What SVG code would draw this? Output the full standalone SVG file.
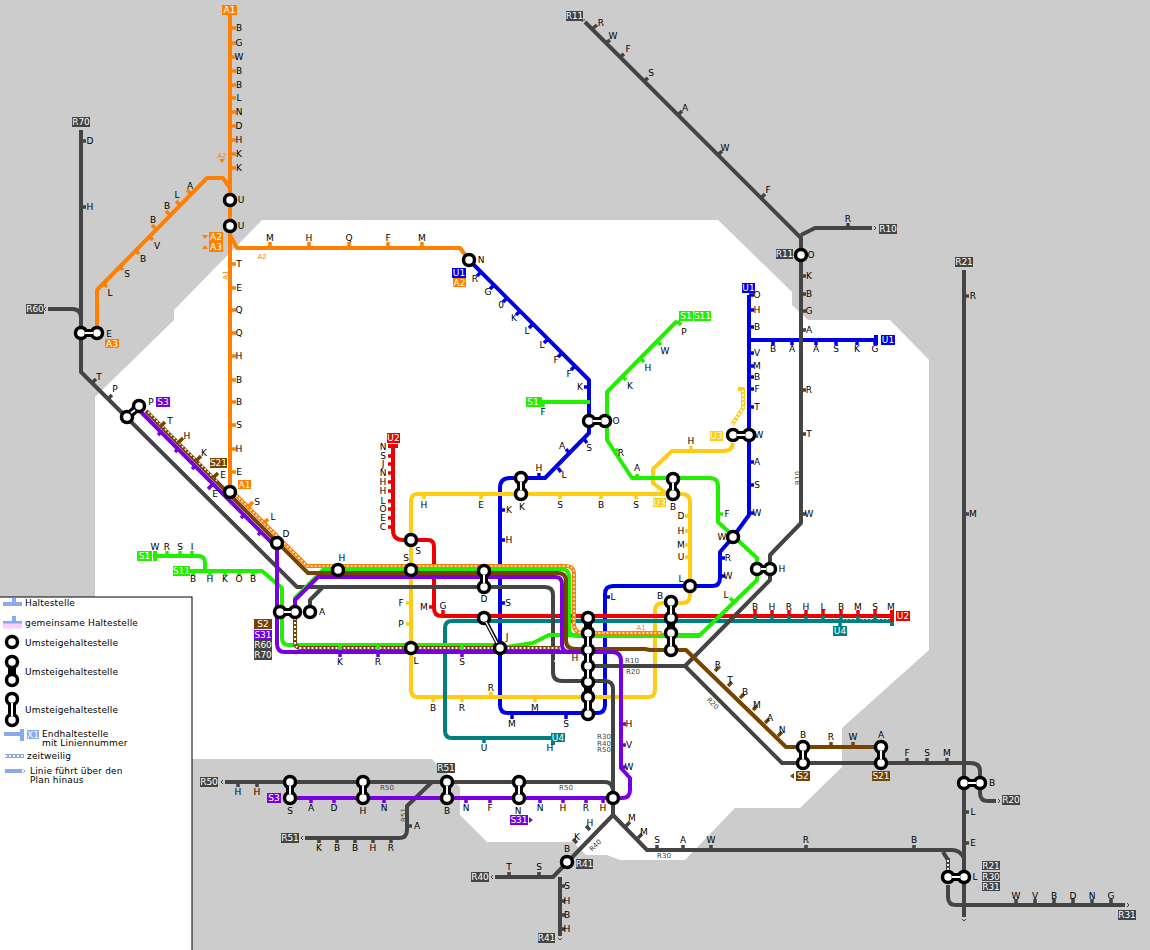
<svg xmlns="http://www.w3.org/2000/svg" width="1150" height="950" viewBox="0 0 1150 950">
<style>
text{font-family:"DejaVu Sans","Liberation Sans",sans-serif;font-size:9px;fill:#000;text-anchor:middle}
.s{font-size:7px;fill:#444}
.l{text-anchor:start;letter-spacing:.17px}
.w{fill:#fff}
path{fill:none;stroke-linejoin:round}
.ln{stroke-width:4}
.t{stroke-width:3.500}
.d{stroke:#fff;stroke-width:2;stroke-dasharray:2 2}
.gy{stroke:#444}.or{stroke:#ff8000}.bl{stroke:#0000e6}.gr{stroke:#22ee00}.ye{stroke:#ffcc11}.re{stroke:#ee0000}.te{stroke:#007f7f}.pu{stroke:#7700dd}.br{stroke:#774400}
.st circle{fill:#fff;stroke:#000;stroke-width:3.500}
.k{stroke:#000;stroke-width:8;stroke-linecap:round}
.kw{stroke:#fff;stroke-width:2}
.tk{stroke:#444;stroke-width:1}
</style>
<rect width="1150" height="950" fill="#cccccc"/>
<polygon fill="#fff" points="262,220 718,220 792,292 792,305 808,320 890,320 929,360 929,650 842,728 842,767 800,808 735,808 685,860 620,860 607,855 586,855 573,842 487,842 460,815 460,787 432,759 192,759 192,597 95,597 95,397 174,320 174,310"/>
<g id="legend" opacity=".999">
<rect x="-2" y="597" width="194" height="360" fill="#fff" stroke="#000" stroke-width="1"/>
<path d="M3 604H22M14 604V598" stroke="#88aaee" stroke-width="4"/>
<path d="M3 623H22M14 623V616" stroke="#88aaee" stroke-width="4"/><path d="M3 626H22" stroke="#ffccff" stroke-width="5"/>
<path d="M4 734H22M22 729V741" stroke="#88aaee" stroke-width="4"/>
<rect x="27" y="730" width="12" height="9" fill="#88aaee"/><text x="33" y="738" class="w">X1</text>
<path d="M5 756H24" stroke="#88aaee" stroke-width="4"/><path d="M5 756H24" class="d"/>
<path d="M5 771H22" stroke="#88aaee" stroke-width="4"/><path d="M23 769l2 2l-2 2" stroke="#88aaee" stroke-width="1"/>
<g class="st"><circle cx="12" cy="642" r="5.500"/><path class="k" d="M12 662V680"/><circle cx="12" cy="662" r="5.500"/><circle cx="12" cy="680" r="5.500"/><path class="k" d="M12 699V720"/><circle cx="12" cy="699" r="5.500"/><circle cx="12" cy="720" r="5.500"/><path class="kw" d="M12 703V716"/></g>
<text x="25" y="606" class="l">Haltestelle</text>
<text x="25" y="626" class="l">gemeinsame Haltestelle</text>
<text x="25" y="646" class="l">Umsteigehaltestelle</text>
<text x="25" y="675" class="l">Umsteigehaltestelle</text>
<text x="25" y="713" class="l">Umsteigehaltestelle</text>
<text x="42" y="737" class="l">Endhaltestelle</text>
<text x="42" y="746" class="l">mit Liniennummer</text>
<text x="27" y="759" class="l">zeitweilig</text>
<text x="30" y="774" class="l">Linie führt über den</text>
<text x="30" y="783" class="l">Plan hinaus</text>
</g>
<g id="connectors">
<path class="ln bl" d="M749 295V515L733 537L720 552V578Q720 586 712 586H613Q605 586 605 594V705Q605 713 597 713H508Q500 713 500 705V488Q500 478 510 478H545L589 433V380L469 260"/>
<path class="ln bl" d="M749 340H876M876 335V345"/>
<path class="ln ye" d="M411 540V690Q411 697 418 697H648Q655 697 655 690V611Q655 603 663 603H682Q690 603 690 595V502Q690 494 682 494H418Q411 494 411 501V540"/>
<path class="ln ye" d="M733 443Q732 451 724 451H672L653 469V483L667 494"/>
<path class="ln ye" d="M732 425L743 408V389H738"/><path class="d" d="M732 425L743 408V389"/>
<path class="ln te" d="M892 621H452Q445 621 445 628V731Q445 738 452 738H553M553 733V745M892 616V626"/>
<path class="d" d="M842 618.500H888"/>
<path class="ln re" d="M393 446V530Q393 540 403 540H428Q434 540 434 547V608Q434 616 442 616H892M892 610V622M388 446H398"/>
<path class="ln gy" d="M81 130V372L297 587H545Q553 587 553 595V672Q553 681 562 681H605Q613 681 613 689V815L553 877H495M560 877V936"/>
<path class="ln gy" d="M310 606V600L323 587M588 666H685L770 580V555L801 523V238L585 22M801 235L815 228H872M48 309H72Q81 309 81 318V333"/>
<path class="ln gy" d="M685 666L782 763H970Q980 763 980 771V793Q980 801 988 801H996M964 270V917"/>
<path class="ln gy" d="M613 815L647 850H952Q960 850 964 858M948 885V897Q948 905 956 905H1125M948 860L943 852"/>
<path class="ln gy" d="M225 782H605Q613 782 613 792M432 782L407 806V830Q407 838 399 838H305"/>
<path d="M948 877V858" class="ln gy"/><path class="d" d="M948 870V858"/>
<path class="d" d="M555 660Q557 666 562 666H585"/>
<path class="ln gr" d="M677 321L607 392V440L632 478H710Q718 478 718 486V522L757 558V580L700 635H549L533 643L500 648"/>
<path class="ln gr" d="M155 556H198Q205 556 205 563V571M190 571H262L282 588V638Q282 645 289 645H500M155 551V561"/>
<path class="ln gr" d="M295 606V598L324 569H561Q569 569 569 577V628Q569 636 577 636H700M540 402H590M540 397V407"/>
<path class="ln br" d="M146 411L308 573H558Q566 573 566 581V640Q566 649 575 649H645L650 650H686L786 747H881"/>
<path class="ln br" d="M295 606V642Q295 648 301 648H560"/>
<path class="d" d="M295 614V642Q295 648 301 648H560"/>
<path class="d" d="M148 412L217 481" style="stroke-width:1.500"/>
<path class="ln pu" d="M139 410L277 548V644Q277 652 285 652H612Q621 652 621 661V768L630 778V790Q630 798 622 798H290"/>
<path class="ln pu" d="M295 606V600L318 577H555Q562 577 562 584V645Q562 652 570 652"/>
<path class="ln or" d="M230 10V489L307 566H566Q574 566 574 574V624Q574 633 583 633H662"/>
<path class="d" d="M236 495L307 566H566Q574 566 574 574V624Q574 633 583 633H662" style="stroke-width:1.500"/>
<path class="ln or" d="M230 188L223 178H207L97 290V333M230 235L237 248H460L469 260"/>
<path class="or t" d="M230 28h6M230 43h6M230 57h6M230 71h6M230 85h6M230 98h6M230 112h6M230 126h6M230 140h6M230 154h6M230 168h6M230 264h6M230 288h6M230 310h6M230 333h6M230 356h6M230 380h6M230 402h6M230 425h6M230 449h6M230 472h6M270 248v-6M309 248v-6M349 248v-6M388 248v-6M422 248v-6M191 194l-4 -4M180 205l-4 -4M170 215l-4 -4M156 229l-4 -4M149 236l4 4M135 250l4 4M119 266l4 4M103 283l4 4M248 507l5 -5M264 523l4 -4"/>
<path class="t bl" d="M481 272l-4 4M494 285l-4 4M507 298l-4 4M520 311l-4 4M533 324l-4 4M548 339l-4 4M562 353l-4 4M575 366l-4 4M589 387h-5M749 295h5M749 310h5M749 327h5M749 353h5M749 366h5M749 377h5M749 389h5M749 407h5M749 462h5M749 485h5M749 513h5M773 340v5M792 340v5M816 340v5M836 340v5M857 340v5M875 340v5M569 453l-3 -4M584 439l3 4M558 468l3 4M539 478v-5M500 510h5M500 540h5M500 603h5M605 597h5M720 558h5M720 576h5M512 713v6M566 713v6"/>
<path class="t gr" d="M677 321l4 4M657 341l4 4M640 358l4 4M622 376l4 4M615 452l3 -3M637 478v-4M718 514h5M543 402v5M155 556v-5M167 556v-5M180 556v-5M192 556v-5M193 571v5M210 571v5M225 571v5M239 571v5M253 571v5M734 602l-4 -4M340 645v5M378 645v5M462 645v5"/>
<path class="t ye" d="M424 494v5M481 494v5M560 494v5M601 494v5M636 494v5M691 451v-5M690 516h-5M690 531h-5M690 545h-5M690 557h-5M411 603h-5M411 624h-5M433 697v5M462 697v5M491 697v-5M535 697v5"/>
<path class="t re" d="M393 456h-5M393 464h-5M393 473h-5M393 482h-5M393 491h-5M393 501h-5M393 509h-5M393 518h-5M393 527h-5M434 607h-5M443 616v-6M755 616v-6M772 616v-6M789 616v-6M806 616v-6M823 616v-6M841 616v-6M858 616v-6M875 616v-6"/>
<path class="t te" d="M755 621v-5M772 621v-5M789 621v-5M806 621v-5M823 621v-5M841 621v-5M858 621v-5M875 621v-5M840 621v6M484 738v5"/>
<path class="t pu" d="M621 724h5M621 745h5M621 767h5M311 798v5M334 798v5M384 798v5M466 798v5M490 798v5M540 798v5M563 798v5M586 798v5M603 798v5M340 652v5M378 652v5M462 652v5M161 432l-3 3M178 449l-3 3M195 466l-3 3M213 484l-5 5M244 515l-3 3M261 532l-3 3"/>
<path class="t br" d="M161 426l4 -4M178 443l5 -5M196 461l5 -5M213 478l5 -5M715 671l4 -4M728 686l4 -4M740 698l4 -4M753 710l4 -4M765 723l4 -4M778 736l4 -4M831 747v-5M853 747v-5"/>
<path class="t gy" d="M81 141h5M81 207h5M92 383l4 -4M108 399l4 -4M592 29l5 -4M606 43l4 -3M620 57l4 -3M644 81l4 -3M678 115l4 -4M718 155l4 -4M761 198l4 -4M848 228v-5M801 276h5M801 294h5M801 311h5M801 330h5M801 390h5M801 434h5M801 514h5M964 296h5M964 514h5M964 812h5M964 843h5M907 763v-5M927 763v-5M947 763v-5M1016 905v-6M1035 905v-6M1054 905v-6M1073 905v-6M1092 905v-6M1111 905v-6M238 782v5M257 782v5M407 826h5M319 838v5M337 838v5M355 838v5M373 838v5M391 838v5M509 877v-5M539 877v-5M560 886h5M560 901h5M560 915h5M560 929h5M577 843l-4 -4M590 830l-4 -4M626 826l4 -4M638 838l4 -4M657 850v-5M683 850v-5M711 850v-5M806 850v-5M914 850v-5"/>
<path class="tk" d="M46 307l-2 2l2 2M79 127l2 -2l2 2M223 780l-2 2l2 2M303 836l-2 2l2 2M493 875l-2 2l2 2M558 938l2 2l2 -2M962 919l2 2l2 -2M998 799l2 2l-2 2M1127 903l2 2l-2 2M874 226l2 2l-2 2M585 20h-3v2"/>
</g>
<g id="stations" class="st">
<g id="n-ue1"><circle cx="230" cy="200" r="5.500"/></g>
<g id="n-ue2"><circle cx="230" cy="226" r="5.500"/></g>
<g id="n-n"><circle cx="469" cy="260" r="5.500"/></g>
<g id="n-e"><path class="k" d="M81 333H97"/><circle cx="81" cy="333" r="5.500"/><circle cx="97" cy="333" r="5.500"/><path class="kw" d="M85 333H93"/></g>
<g id="n-p"><path class="k" d="M127 417L139 406"/><circle cx="127" cy="417" r="5.500"/><circle cx="139" cy="406" r="5.500"/><path class="kw" d="M131 413L135 410"/></g>
<g id="n-e2"><circle cx="230" cy="492" r="5.500"/></g>
<g id="n-d"><circle cx="277" cy="543" r="5.500"/></g>
<g id="n-a"><path class="k" d="M280 612H295"/><circle cx="280" cy="612" r="5.500"/><circle cx="295" cy="612" r="5.500"/><circle cx="310" cy="612" r="5.500"/><path class="kw" d="M284 612H291"/></g>
<g id="n-h"><circle cx="338" cy="570" r="5.500"/></g>
<g id="n-s"><circle cx="411" cy="570" r="5.500"/></g>
<g id="n-s2"><circle cx="411" cy="540" r="5.500"/></g>
<g id="n-l"><circle cx="411" cy="648" r="5.500"/></g>
<g id="n-dd"><path class="k" d="M484 571V587"/><circle cx="484" cy="571" r="5.500"/><circle cx="484" cy="587" r="5.500"/><path class="kw" d="M484 575V583"/></g>
<g id="n-j"><path d="M484 618L500 648" stroke="#000" stroke-width="4"/><circle cx="484" cy="618" r="5.500"/><circle cx="500" cy="648" r="5.500"/><path d="M486 622L497 643" class="kw" style="stroke-width:1.500"/></g>
<g id="n-hbf"><path class="k" d="M588 618V714"/><circle cx="588" cy="618" r="5.500"/><circle cx="588" cy="633" r="5.500"/><circle cx="588" cy="650" r="5.500"/><circle cx="588" cy="666" r="5.500"/><circle cx="588" cy="682" r="5.500"/><circle cx="588" cy="697" r="5.500"/><circle cx="588" cy="714" r="5.500"/><path class="kw" d="M588 701V710M588 637V646M588 654V662M588 670V678"/></g>
<g id="n-b"><path class="k" d="M671 602V650"/><circle cx="671" cy="602" r="5.500"/><circle cx="671" cy="618" r="5.500"/><circle cx="671" cy="633" r="5.500"/><circle cx="671" cy="650" r="5.500"/><path class="kw" d="M671 637V646M671 606V614"/></g>
<g id="n-l2"><circle cx="690" cy="586" r="5.500"/></g>
<g id="n-b2"><path class="k" d="M673 479V494"/><circle cx="673" cy="479" r="5.500"/><circle cx="673" cy="494" r="5.500"/><path class="kw" d="M673 483V490"/></g>
<g id="n-k"><path class="k" d="M521 478V494"/><circle cx="521" cy="478" r="5.500"/><circle cx="521" cy="494" r="5.500"/><path class="kw" d="M521 482V490"/></g>
<g id="n-o"><path class="k" d="M589 421H605"/><circle cx="589" cy="421" r="5.500"/><circle cx="605" cy="421" r="5.500"/><path class="kw" d="M593 421H601"/></g>
<g id="n-w"><path class="k" d="M733 435H749"/><circle cx="733" cy="435" r="5.500"/><circle cx="749" cy="435" r="5.500"/><path class="kw" d="M737 435H745"/></g>
<g id="n-w2"><circle cx="733" cy="537" r="5.500"/></g>
<g id="n-h2"><path class="k" d="M757 569H770"/><circle cx="757" cy="569" r="5.500"/><circle cx="770" cy="569" r="5.500"/><path class="kw" d="M761 569H766"/></g>
<g id="n-o2"><circle cx="801" cy="255" r="5.500"/></g>
<g id="n-s21"><path class="k" d="M881 747V763"/><circle cx="881" cy="747" r="5.500"/><circle cx="881" cy="763" r="5.500"/><path class="kw" d="M881 751V759"/></g>
<g id="n-b3"><path class="k" d="M803 747V763"/><circle cx="803" cy="747" r="5.500"/><circle cx="803" cy="763" r="5.500"/><path class="kw" d="M803 751V759"/></g>
<g id="n-b4"><path class="k" d="M964 783H980"/><circle cx="964" cy="783" r="5.500"/><circle cx="980" cy="783" r="5.500"/><path class="kw" d="M968 783H976"/></g>
<g id="n-l3"><path class="k" d="M948 877H964"/><circle cx="948" cy="877" r="5.500"/><circle cx="964" cy="877" r="5.500"/><path class="kw" d="M952 877H960"/></g>
<g id="n-ss"><path class="k" d="M290 782V798"/><circle cx="290" cy="782" r="5.500"/><circle cx="290" cy="798" r="5.500"/><path class="kw" d="M290 786V794"/></g>
<g id="n-hh"><path class="k" d="M363 782V798"/><circle cx="363" cy="782" r="5.500"/><circle cx="363" cy="798" r="5.500"/><path class="kw" d="M363 786V794"/></g>
<g id="n-bb"><path class="k" d="M447 782V798"/><circle cx="447" cy="782" r="5.500"/><circle cx="447" cy="798" r="5.500"/><path class="kw" d="M447 786V794"/></g>
<g id="n-nn"><path class="k" d="M519 782V798"/><circle cx="519" cy="782" r="5.500"/><circle cx="519" cy="798" r="5.500"/><path class="kw" d="M519 786V794"/></g>
<g id="n-h3"><circle cx="613" cy="798" r="5.500"/></g>
<g id="n-b5"><circle cx="567" cy="862" r="5.500"/></g>
</g>
<g id="badges" opacity=".999">
<g fill="#ff8000"><rect x="222" y="5" width="15" height="10"/><rect x="209" y="232" width="14" height="10"/><rect x="209" y="242" width="14" height="10"/><rect x="238" y="480" width="13" height="9"/><rect x="453" y="278" width="13" height="9"/><rect x="105" y="339" width="14" height="9"/><path style="fill:#ff8000" d="M202 235h6l-3 4zM202 249h6l-3 -4zM219 159h6l-3 4z"/></g>
<g fill="#0000e6"><rect x="452" y="268" width="14" height="10"/><rect x="742" y="283" width="13" height="10"/><rect x="881" y="335" width="14" height="10"/></g>
<g fill="#22ee00"><rect x="526" y="397" width="14" height="10"/><rect x="679" y="311" width="14" height="10"/><rect x="694" y="311" width="17" height="10"/><rect x="137" y="551" width="15" height="10"/><rect x="173" y="566" width="17" height="10"/></g>
<g fill="#ffcc11"><rect x="710" y="431" width="13" height="10"/><rect x="653" y="498" width="13" height="9"/></g>
<g fill="#ee0000"><rect x="387" y="433" width="13" height="10"/><rect x="896" y="611" width="14" height="10"/></g>
<g fill="#007f7f"><rect x="833" y="626" width="14" height="10"/><rect x="551" y="733" width="14" height="9"/></g>
<g fill="#7700dd"><rect x="156" y="397" width="14" height="10"/><rect x="267" y="793" width="14" height="10"/><rect x="254" y="630" width="18" height="10"/><rect x="510" y="815" width="18" height="10"/><path style="fill:#7700dd" d="M529 817v6l4 -3z"/></g>
<g fill="#774400"><rect x="210" y="458" width="17" height="10"/><rect x="254" y="619" width="18" height="10"/><rect x="796" y="771" width="14" height="10"/><rect x="872" y="771" width="18" height="10"/><path style="fill:#774400" d="M794 773v6l-4 -3z"/></g>
<g fill="#444"><rect x="72" y="117" width="18" height="10"/><rect x="26" y="304" width="18" height="10"/><rect x="566" y="11" width="17" height="10"/><rect x="776" y="249" width="17" height="10"/><rect x="879" y="224" width="18" height="10"/><rect x="955" y="257" width="18" height="10"/><rect x="254" y="640" width="18" height="10"/><rect x="254" y="650" width="18" height="10"/><rect x="200" y="777" width="18" height="10"/><rect x="281" y="833" width="18" height="10"/><rect x="437" y="763" width="18" height="10"/><rect x="471" y="872" width="18" height="10"/><rect x="576" y="859" width="17" height="10"/><rect x="538" y="933" width="17" height="10"/><rect x="1002" y="795" width="18" height="10"/><rect x="982" y="861" width="18" height="9"/><rect x="982" y="872" width="18" height="9"/><rect x="982" y="882" width="18" height="9"/><rect x="1118" y="910" width="18" height="10"/></g>
<g>
<text class="w" x="229.500" y="13">A1</text><text class="w" x="216" y="240">A2</text><text class="w" x="216" y="250">A3</text><text class="w" x="244.500" y="488">A1</text><text class="w" x="459.500" y="286">A2</text><text class="w" x="112" y="347">A3</text>
<text class="w" x="459" y="276">U1</text><text class="w" x="748.500" y="291">U1</text><text class="w" x="888" y="343">U1</text>
<text class="w" x="533" y="405">S1</text><text class="w" x="686" y="319">S1</text><text class="w" x="702.500" y="319">S11</text><text class="w" x="144.500" y="559">S1</text><text class="w" x="181.500" y="574">S11</text>
<text class="w" x="716.500" y="439">U3</text><text class="w" x="659.500" y="506">U3</text>
<text class="w" x="393.500" y="441">U2</text><text class="w" x="903" y="619">U2</text>
<text class="w" x="840" y="634">U4</text><text class="w" x="558" y="741">U4</text>
<text class="w" x="163" y="405">S3</text><text class="w" x="274" y="801">S3</text><text class="w" x="263" y="638">S31</text><text class="w" x="519" y="823">S31</text>
<text class="w" x="218.500" y="466">S21</text><text class="w" x="263" y="627">S2</text><text class="w" x="803" y="779">S2</text><text class="w" x="881" y="779">S21</text>
<text class="w" x="81" y="125">R70</text><text class="w" x="35" y="312">R60</text><text class="w" x="574.500" y="19">R11</text><text class="w" x="784.500" y="257">R11</text><text class="w" x="888" y="232">R10</text><text class="w" x="964" y="265">R21</text><text class="w" x="263" y="648">R60</text><text class="w" x="263" y="658">R70</text><text class="w" x="209" y="785">R50</text><text class="w" x="290" y="841">R51</text><text class="w" x="446" y="771">R51</text><text class="w" x="480" y="880">R40</text><text class="w" x="584.500" y="867">R41</text><text class="w" x="546.500" y="941">R41</text><text class="w" x="1011" y="803">R20</text><text class="w" x="991" y="869">R21</text><text class="w" x="991" y="880">R30</text><text class="w" x="991" y="890">R31</text><text class="w" x="1127" y="918">R31</text>
</g>
</g>
<g id="labels" opacity=".999">
<text x="239" y="31">B</text><text x="239" y="46">G</text><text x="239" y="60">W</text><text x="239" y="74">B</text><text x="239" y="88">B</text><text x="239" y="101">L</text><text x="239" y="115">N</text><text x="239" y="129">D</text><text x="239" y="143">H</text><text x="239" y="157">K</text><text x="239" y="171">K</text>
<text x="241" y="203">U</text><text x="241" y="229">U</text>
<text x="239" y="267">T</text><text x="239" y="291">E</text><text x="239" y="313">Q</text><text x="239" y="336">Q</text><text x="239" y="359">H</text><text x="239" y="383">B</text><text x="239" y="405">B</text><text x="239" y="428">S</text><text x="239" y="452">H</text><text x="239" y="475">E</text>
<text x="270" y="241">M</text><text x="309" y="241">H</text><text x="349" y="241">Q</text><text x="388" y="241">F</text><text x="422" y="241">M</text>
<text x="190" y="189">A</text><text x="177" y="198">L</text><text x="167" y="209">B</text><text x="153" y="223">B</text><text x="157" y="249">V</text><text x="143" y="262">B</text><text x="127" y="277">S</text><text x="110" y="296">L</text><text x="109" y="337">E</text>
<text x="481" y="263">N</text><text x="475" y="282">R</text><text x="488" y="295">G</text><text x="501" y="308">0</text><text x="514" y="321">K</text><text x="527" y="334">L</text><text x="542" y="348">L</text><text x="556" y="363">F</text><text x="569" y="377">F</text><text x="580" y="390">K</text>
<text x="90" y="144">D</text><text x="90" y="210">H</text><text x="99" y="380">T</text><text x="115" y="392">P</text><text x="151" y="405">P</text>
<text x="170" y="424">T</text><text x="187" y="439">H</text><text x="204" y="456">K</text><text x="223" y="478">E</text><text x="215" y="497">E</text><text x="257" y="505">S</text><text x="273" y="520">L</text><text x="286" y="537">D</text>
<text x="155" y="550">W</text><text x="167" y="550">R</text><text x="180" y="550">S</text><text x="192" y="550">I</text><text x="193" y="582">B</text><text x="210" y="582">H</text><text x="225" y="582">K</text><text x="239" y="582">O</text><text x="253" y="582">B</text>
<text x="322" y="615">A</text><text x="342" y="561">H</text><text x="406" y="561">S</text><text x="418" y="554">S</text><text x="401" y="606">F</text><text x="401" y="627">P</text><text x="424" y="610">M</text><text x="443" y="609">G</text><text x="484" y="602">D</text><text x="507" y="640">J</text><text x="416" y="664">L</text><text x="340" y="665">K</text><text x="378" y="665">R</text><text x="462" y="665">S</text>
<text x="383" y="450">N</text><text x="383" y="459">S</text><text x="383" y="467">J</text><text x="383" y="476">N</text><text x="383" y="485">H</text><text x="383" y="494">H</text><text x="383" y="504">L</text><text x="383" y="512">O</text><text x="383" y="521">E</text><text x="383" y="530">C</text>
<text x="424" y="508">H</text><text x="481" y="508">E</text><text x="509" y="513">K</text><text x="522" y="510">K</text><text x="560" y="508">S</text><text x="601" y="508">B</text><text x="636" y="508">S</text>
<text x="509" y="543">H</text><text x="508" y="606">S</text><text x="539" y="471">H</text><text x="562" y="449">A</text><text x="564" y="478">L</text><text x="589" y="451">S</text>
<text x="543" y="415">F</text><text x="616" y="424">O</text><text x="684" y="335">P</text><text x="665" y="354">W</text><text x="648" y="371">H</text><text x="630" y="389">K</text><text x="621" y="456">R</text><text x="637" y="471">A</text>
<text x="691" y="444">H</text><text x="757" y="298">O</text><text x="757" y="313">H</text><text x="757" y="330">B</text><text x="757" y="356">V</text><text x="757" y="369">M</text><text x="757" y="380">B</text><text x="757" y="392">F</text><text x="757" y="410">T</text><text x="759" y="438">W</text><text x="757" y="465">A</text><text x="757" y="488">S</text><text x="757" y="516">W</text>
<text x="773" y="352">B</text><text x="792" y="352">A</text><text x="816" y="352">A</text><text x="836" y="352">S</text><text x="857" y="352">K</text><text x="875" y="352">G</text>
<text x="809" y="279">K</text><text x="809" y="297">B</text><text x="809" y="314">G</text><text x="809" y="333">A</text><text x="809" y="393">R</text><text x="809" y="437">T</text><text x="809" y="517">W</text><text x="811" y="258">O</text><text x="848" y="222">R</text>
<text x="601" y="26">R</text><text x="613" y="39">W</text><text x="628" y="52">F</text><text x="651" y="76">S</text><text x="685" y="111">A</text><text x="725" y="151">W</text><text x="768" y="193">F</text>
<text x="973" y="299">R</text><text x="973" y="517">M</text>
<text x="673" y="510">B</text><text x="681" y="519">D</text><text x="681" y="534">H</text><text x="681" y="548">M</text><text x="681" y="560">U</text><text x="681" y="582">L</text><text x="660" y="599">B</text><text x="722" y="540">W</text><text x="727" y="517">F</text><text x="728" y="561">R</text><text x="728" y="579">W</text><text x="726" y="598">L</text><text x="782" y="572">H</text>
<text x="613" y="600">L</text><text x="575" y="661">H</text><text x="433" y="711">B</text><text x="462" y="711">R</text><text x="491" y="691">R</text><text x="535" y="711">M</text><text x="512" y="727">M</text><text x="566" y="727">S</text><text x="484" y="751">U</text><text x="550" y="751">H</text>
<text x="629" y="727">H</text><text x="629" y="748">V</text><text x="629" y="770">W</text>
<text x="755" y="610">B</text><text x="772" y="610">H</text><text x="789" y="610">R</text><text x="806" y="610">H</text><text x="823" y="610">L</text><text x="841" y="610">B</text><text x="858" y="610">M</text><text x="875" y="610">S</text><text x="891" y="610">M</text>
<text x="718" y="668">R</text><text x="730" y="683">T</text><text x="745" y="695">B</text><text x="757" y="708">M</text><text x="770" y="721">A</text><text x="782" y="733">N</text><text x="803" y="738">B</text><text x="831" y="740">R</text><text x="853" y="740">W</text><text x="881" y="738">A</text>
<text x="907" y="756">F</text><text x="927" y="756">S</text><text x="947" y="756">M</text><text x="992" y="786">B</text><text x="973" y="815">L</text><text x="973" y="846">E</text><text x="975" y="880">L</text>
<text x="1016" y="899">W</text><text x="1035" y="899">V</text><text x="1054" y="899">B</text><text x="1073" y="899">D</text><text x="1092" y="899">N</text><text x="1111" y="899">G</text>
<text x="238" y="795">H</text><text x="257" y="795">H</text><text x="290" y="814">S</text><text x="311" y="811">A</text><text x="334" y="811">D</text><text x="363" y="814">H</text><text x="384" y="811">N</text><text x="417" y="829">A</text><text x="447" y="814">B</text>
<text x="466" y="811">N</text><text x="490" y="811">F</text><text x="518" y="814">N</text><text x="540" y="811">N</text><text x="563" y="811">H</text><text x="586" y="811">R</text><text x="603" y="811">H</text>
<text x="319" y="851">K</text><text x="337" y="851">B</text><text x="355" y="851">B</text><text x="373" y="851">H</text><text x="391" y="851">R</text>
<text x="509" y="870">T</text><text x="539" y="870">S</text><text x="567" y="852">B</text><text x="567" y="889">S</text><text x="567" y="904">H</text><text x="567" y="918">B</text><text x="567" y="932">H</text>
<text x="577" y="840">K</text><text x="590" y="826">H</text><text x="632" y="821">M</text><text x="644" y="835">M</text><text x="657" y="843">S</text><text x="683" y="843">A</text><text x="711" y="843">W</text><text x="806" y="843">R</text><text x="914" y="843">B</text>
<text class="s" x="222" y="158" style="fill:#ff8000">A2</text><text class="s" x="262" y="259" style="fill:#ff8000">A2</text><text class="s" x="641" y="630" style="fill:#ff8000">A1</text>
<text class="s" transform="translate(228,275) rotate(-90)" style="fill:#ff8000">A1</text>
<text class="s" transform="translate(800,478) rotate(-90)">R10</text>
<text class="s" x="632" y="663">R10</text><text class="s" x="633" y="674">R20</text>
<text class="s" x="604" y="739">R30</text><text class="s" x="604" y="746">R40</text><text class="s" x="604" y="752">R50</text>
<text class="s" x="387" y="790">R50</text><text class="s" x="566" y="790">R50</text><text class="s" x="664" y="858">R30</text>
<text class="s" transform="translate(406,815) rotate(-90)">R51</text>
<text class="s" transform="translate(597,847) rotate(-45)">R40</text>
<text class="s" transform="translate(711,705) rotate(45)">R20</text>
</g>
</svg>
